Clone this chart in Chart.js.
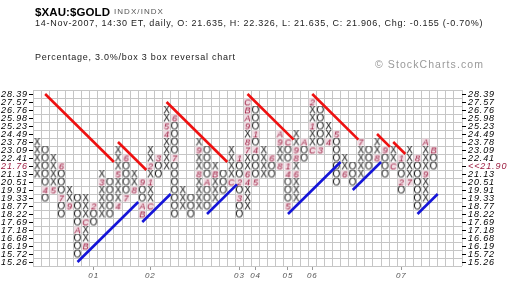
<!DOCTYPE html>
<html>
<head>
<meta charset="utf-8">
<script src="https://cdn.jsdelivr.net/npm/chart.js@4.4.0/dist/chart.umd.min.js"></script>
<style>
  html, body { margin: 0; padding: 0; background: #fff; }
  #wrap { position: relative; width: 520px; height: 290px; overflow: hidden; }
  #pf { position: absolute; left: 0; top: 0; }
  .hdr { position: absolute; white-space: nowrap; font-family: "Liberation Sans", Arial, sans-serif; line-height: 1; }
</style>
</head>
<body>
<div id="wrap">
  <canvas id="pf" width="520" height="290"></canvas>
</div>
<script>
// price boxes, bottom to top (3% per box)
const boxLevels = ['15.26', '15.72', '16.19', '16.68', '17.18', '17.69', '18.22', '18.77', '19.33', '19.91', '20.51',
    '21.13', '21.76', '22.41', '23.09', '23.78', '24.49', '25.23', '25.98', '26.76', '27.57', '28.39'];
const lastBox = 12;            // box of the last price
const lastLabel = '<<21.90';

// one entry per column, box index of the highest and lowest mark (columns alternate X, O, X ...)
const colTop = [15, 14, 13, 12, 9, 8, 8, 7, 11, 10, 14, 13, 11, 10, 14, 13, 19, 18, 9, 8, 15, 14, 12, 11, 14,
    13, 20, 19, 14, 13, 16, 15, 16, 15, 20, 19, 17, 16, 13, 12, 15, 14, 15, 14, 14, 13, 14, 13, 15, 14];
const colBottom = [11, 8, 9, 6, 7, 1, 2, 5, 6, 6, 7, 8, 9, 6, 7, 11, 12, 6, 7, 6, 7, 7, 8, 9, 10,
    6, 7, 10, 11, 11, 12, 7, 8, 13, 14, 14, 15, 10, 11, 10, 11, 12, 13, 11, 12, 9, 10, 7, 8, 12];

// month markers (1-9, A=Oct, B=Nov, C=Dec) that replace a box
const monthCol = [1, 2, 3, 3, 4, 5, 6, 6, 7, 8, 10, 10, 11, 11, 12, 13, 13, 13, 14, 14, 14, 15, 16, 16, 17, 17,
    20, 20, 21, 22, 24, 25, 25, 25, 26, 26, 26, 26, 26, 26, 26, 26, 27, 27, 27, 29, 30, 30, 30, 31, 31, 31, 31,
    32, 32, 32, 33, 34, 34, 34, 35, 36, 37, 38, 40, 42, 43, 44, 45, 45, 46, 47, 48, 48, 49];
const monthBox = [9, 9, 12, 8, 7, 4, 2, 5, 7, 10, 7, 11, 13, 8, 9, 10, 7, 6, 7, 10, 12, 13, 16, 17, 18, 13,
    11, 14, 10, 11, 10, 13, 10, 8, 10, 11, 14, 15, 17, 18, 19, 20, 16, 14, 10, 13, 12, 15, 16, 15, 12, 11, 7,
    11, 13, 14, 15, 14, 17, 20, 14, 15, 16, 11, 15, 13, 14, 12, 13, 10, 10, 13, 11, 15, 14];
const monthChar = ['4', '5', '6', '7', '9', 'A', 'B', 'C', '2', '3', '4', '5', '6', '7', '8', '9', 'A', 'B', 'C', '1', '2', '3', '4', '5', '6', '7',
    '8', '9', 'A', 'B', 'C', '1', '2', '3', '4', '6', '7', '8', '9', 'A', 'B', 'C', '1', '4', '5', '6', '8', '9', 'A', 'C', '1', '4', '5',
    '6', '8', '9', 'A', 'C', '1', '2', '3', '4', '5', '6', '7', '8', '9', 'C', '1', '2', '7', '8', '9', 'A', 'B'];

const yearText = ['01', '02', '03', '04', '05', '06', '07'];
const yearCol = [7, 14, 25, 27, 31, 34, 45];

// trend lines: [startCol, startBox, endCol, endBox]
const redLines = [[1, 21, 9.5, 12.5], [10, 15, 13.5, 11.5], [16, 20, 23.5, 12.5], [26, 21, 31.7, 15.3],
    [34, 21, 39.7, 15.3], [42, 16, 43.6, 14.4], [44, 15, 45.5, 13.5]];
const blueLines = [[5, 0, 12.5, 7.5], [13, 5, 16.5, 8.5], [21, 6, 24.7, 9.7], [31, 6, 37.5, 12.5],
    [39, 9, 42.5, 12.5], [47, 6, 49.5, 8.5]];

const titleSymbol = '$XAU:$GOLD';
const titleExchange = 'INDX/INDX';
const quoteLine = '14-Nov-2007, 14:30 ET, daily, O: 21.635, H: 22.326, L: 21.635, C: 21.906, Chg: -0.155 (-0.70%)';
const methodLine = 'Percentage, 3.0%/box 3 box reversal chart';
const creditLine = '\u00a9 StockCharts.com';

const NUM_COLS = 53;
const family = '"Liberation Sans", Arial, sans-serif';
const maroon = '#9c1d40';

// header texts, stretched to the width they take in the picture
const measure = document.createElement('canvas').getContext('2d');
function addText(text, font, size, left, baseline, width, color) {
    const el = document.createElement('div');
    el.className = 'hdr';
    el.textContent = text;
    measure.font = font + ' ' + size + 'px ' + family;
    const natural = measure.measureText(text).width;
    const ls = (width - natural) / text.length;
    el.style.cssText = `left:${left}px;top:${baseline - 0.8465 * size}px;font-size:${size}px;` +
        `font-weight:${font.includes('bold') ? 'bold' : 'normal'};color:${color};letter-spacing:${ls.toFixed(2)}px;`;
    document.getElementById('wrap').appendChild(el);
}
addText(titleSymbol, 'bold', 11.5, 35, 16.7, 75, '#000');
addText(titleExchange, 'normal', 8, 114, 15, 50, '#555');
addText(quoteLine, 'normal', 9, 35, 27, 448, '#222');
addText(methodLine, 'normal', 9, 35, 60.5, 201, '#222');
addText(creditLine, 'normal', 10.5, 375, 68, 109, '#999');

// small bitmaps used as point styles for the X / O / month boxes
function makeGlyph(ch) {
    const cv = document.createElement('canvas');
    cv.width = 9;
    cv.height = 9;
    const g = cv.getContext('2d');
    g.textAlign = 'center';
    if (ch === 'X' || ch === 'O') {
        g.fillStyle = '#111';
        g.font = '10px ' + family;
        g.fillText(ch, 4.5, 8.2);
    } else {
        g.fillStyle = '#f1dce3';
        g.fillRect(1, 1, 7, 7);
        g.fillStyle = maroon;
        g.font = 'italic 9px ' + family;
        g.fillText(ch, 4.5, 7.8);
    }
    return cv;
}
const glyphs = {};
['X', 'O', '1', '2', '3', '4', '5', '6', '7', '8', '9', 'A', 'B', 'C'].forEach(ch => { glyphs[ch] = makeGlyph(ch); });

function monthAt(c, r) {
    for (let k = 0; k < monthCol.length; k++) {
        if (monthCol[k] === c && monthBox[k] === r) return monthChar[k];
    }
    return null;
}

const cells = [];
colTop.forEach((top, c) => {
    const kind = c % 2 === 0 ? 'X' : 'O';
    for (let r = colBottom[c]; r <= top; r++) {
        cells.push({ x: c + 0.5, y: r + 0.5, mark: monthAt(c, r) || kind });
    }
});

function lineSet(l, color) {
    return {
        data: [{ x: l[0] + 0.5, y: l[1] + 0.5 }, { x: l[2] + 0.5, y: l[3] + 0.5 }],
        showLine: true,
        borderColor: color,
        borderWidth: 2.6,
        pointRadius: 0,
        order: 0
    };
}

const datasets = [
    ...redLines.map(l => lineSet(l, '#ee1111')),
    ...blueLines.map(l => lineSet(l, '#1515d8')),
    {
        data: cells,
        pointStyle: ctx => glyphs[ctx.raw.mark],
        pointRadius: 4,
        order: 1
    }
];

const range = n => Array.from({ length: n }, (_, i) => i);
const labelFont = { family: family, size: 9, style: 'italic' };

const spacing = {
    id: 'spacing',
    beforeDraw(chart) { chart.ctx.letterSpacing = '0.9px'; }
};

new Chart(document.getElementById('pf'), {
    type: 'scatter',
    data: { datasets },
    options: {
        responsive: false,
        devicePixelRatio: 1,
        animation: false,
        events: [],
        layout: { padding: { top: 90, left: 0, right: 0, bottom: 0 } },
        plugins: { legend: { display: false }, tooltip: { enabled: false } },
        scales: {
            x: {
                type: 'linear', min: 0, max: NUM_COLS,
                afterBuildTicks: s => { s.ticks = range(NUM_COLS + 1).map(v => ({ value: v })); },
                ticks: { display: false },
                grid: { color: '#c6c6c6', drawTicks: false },
                border: { display: false },
                afterFit: s => { s.height = 0; }
            },
            xl: {
                type: 'linear', position: 'bottom', min: 0, max: NUM_COLS,
                afterBuildTicks: s => { s.ticks = yearCol.map(c => ({ value: c + 0.5 })); },
                ticks: {
                    callback: (v, i) => yearText[i],
                    autoSkip: false, maxRotation: 0, padding: 1,
                    color: '#555', font: { family: family, size: 8, style: 'italic' }
                },
                grid: { drawOnChartArea: false, tickLength: 4, color: '#999' },
                border: { display: false },
                afterFit: s => { s.height = 24; }
            },
            y: {
                type: 'linear', position: 'left', min: 0, max: boxLevels.length,
                afterBuildTicks: s => { s.ticks = range(boxLevels.length + 1).map(v => ({ value: v })); },
                ticks: { display: false },
                grid: { color: '#c6c6c6', drawTicks: false },
                border: { display: false },
                afterFit: s => { s.width = 0; }
            },
            yl: {
                type: 'linear', position: 'left', min: 0, max: boxLevels.length,
                afterBuildTicks: s => { s.ticks = boxLevels.map((b, i) => ({ value: i + 0.5 })); },
                ticks: {
                    callback: (v, i) => boxLevels[i],
                    autoSkip: false, padding: 1,
                    color: ctx => ctx.index === lastBox ? maroon : '#000',
                    font: labelFont
                },
                grid: { drawOnChartArea: false, tickLength: 4, color: '#000' },
                border: { display: false },
                afterFit: s => { s.width = 33; }
            },
            yr: {
                type: 'linear', position: 'right', min: 0, max: boxLevels.length,
                afterBuildTicks: s => { s.ticks = boxLevels.map((b, i) => ({ value: i + 0.5 })); },
                ticks: {
                    callback: (v, i) => i === lastBox ? lastLabel : boxLevels[i],
                    autoSkip: false, padding: 2,
                    color: ctx => ctx.index === lastBox ? maroon : '#000',
                    font: labelFont
                },
                grid: { drawOnChartArea: false, tickLength: 4, color: '#000' },
                border: { display: false },
                afterFit: s => { s.width = 58; }
            }
        }
    },
    plugins: [spacing]
});
</script>
</body>
</html>
